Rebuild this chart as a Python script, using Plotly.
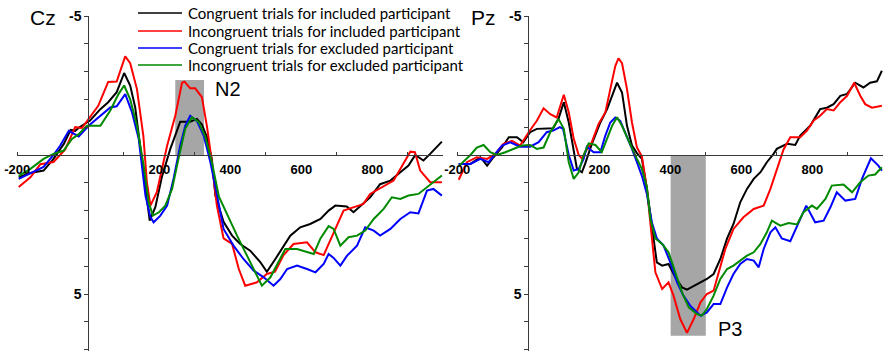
import plotly.graph_objects as go

# ---------------- data (ms, microvolts; negative up) ----------------
CZ_CON_IN_T = [-196,-163,-126,-98,-69,-50,-37,-25,5,34,56,80,101,118,132,151,165,173,189,207,231,250,259,287,306,320,334,348,358,381,405,428,456,485,503,527,550,569,597,625,654,677,696,728,747,766,794,822,851,879,902,921,944,963,982,996]
CZ_CON_IN_V = [0.8,0.65,0.56,0.14,-0.4,-0.9,-0.87,-1.0,-1.24,-1.65,-1.9,-2.26,-2.95,-2.5,-1.72,0.14,1.7,2.36,1.87,0.8,-0.22,-0.94,-1.2,-1.2,-1.3,-1.1,-0.65,0.15,1.46,2.4,2.9,3.2,3.44,3.86,4.2,3.74,3.26,2.9,2.6,2.48,2.3,2.0,1.82,1.85,2.06,1.84,1.52,1.05,0.92,0.62,0.38,0.0,0.2,-0.04,-0.28,-0.48]

CZ_INC_IN_T = [-196,-163,-135,-98,-65,-37,-18,5,28,56,80,104,118,137,155,165,175,193,222,245,264,271,287,301,320,334,346,362,381,405,424,442,475,503,526,550,578,616,640,663,691,719,757,775,794,822,860,879,907,920,935,963,996]
CZ_INC_IN_V = [1.15,0.8,0.33,0.25,-0.2,-1.0,-0.97,-1.35,-1.77,-2.63,-2.64,-3.55,-3.3,-2.37,-0.7,0.98,1.82,1.34,-0.33,-1.41,-2.6,-2.64,-2.4,-2.4,-2.08,-1.05,0.05,1.8,3.0,3.2,4.1,4.7,4.58,4.28,4.2,3.6,3.2,3.14,3.5,3.6,2.78,2.0,1.84,1.76,1.4,1.2,0.92,0.5,-0.12,-0.1,0.56,0.98,0.98]

CZ_CON_EX_T = [-196,-163,-126,-98,-79,-55,-27,5,34,62,80,104,123,142,161,175,184,203,222,240,259,273,287,306,325,344,362,381,409,437,466,494,522,541,560,588,616,640,663,677,691,710,729,757,780,804,822,851,879,907,930,954,972,996]
CZ_CON_EX_V = [0.86,0.67,0.43,0.0,-0.34,-0.87,-0.67,-1.1,-1.41,-1.71,-1.75,-2.19,-1.54,-0.58,1.46,2.23,2.42,2.18,1.82,0.86,-0.34,-1.05,-1.41,-1.22,-0.7,0.26,1.4,2.66,3.26,3.74,4.16,4.4,4.7,4.46,4.1,3.98,4.1,4.22,3.92,3.56,3.7,3.98,3.62,3.26,2.6,2.72,2.9,2.66,2.3,2.06,2.1,1.28,1.22,1.46]

CZ_INC_EX_T = [-196,-163,-126,-98,-70,-46,-27,-4,34,62,85,101,118,137,156,170,182,199,217,236,254,273,292,311,330,348,368,393,419,447,470,489,513,536,555,588,616,635,654,677,691,710,733,757,780,804,832,855,879,902,930,954,977,996]
CZ_INC_EX_V = [0.75,0.5,0.14,-0.04,-0.15,-0.58,-0.75,-1.05,-1.05,-1.6,-2.19,-2.5,-2.0,-1.05,0.38,1.7,2.18,2.06,1.82,1.22,0.14,-0.94,-1.36,-1.18,-0.64,0.26,1.5,2.2,2.9,3.62,4.22,4.7,4.4,3.86,3.38,3.38,3.5,3.56,3.0,2.56,2.66,3.26,2.96,2.9,2.72,2.3,1.94,1.52,1.58,1.46,1.4,1.16,0.92,0.74]

PZ_CON_IN_T = [-196,-163,-135,-116,-98,-74,-55,-32,-14,5,24,52,70,85,100,114,128,137,151,160,179,203,222,240,250,264,278,292,306,320,334,348,362,377,395,414,433,447,466,485,503,522,541,560,578,597,616,635,654,672,691,700,729,752,766,794,822,841,860,879,898,921,944,963,982,996]
PZ_CON_IN_V = [0.32,0.32,0.08,0.38,0.08,-0.27,-0.64,-0.64,-0.46,-0.82,-0.94,-0.96,-0.96,-1.3,-1.9,-1.17,-0.22,0.5,0.62,0.32,-0.4,-1.17,-1.65,-2.25,-2.6,-2.25,-1.05,-0.34,-0.07,0.14,1.22,2.54,3.86,3.98,3.92,4.4,4.76,4.84,4.7,4.58,4.46,4.28,3.74,3.0,2.48,1.7,1.22,0.86,0.62,0.26,-0.04,-0.22,-0.4,-0.36,-0.7,-1.05,-1.65,-1.7,-1.83,-2.13,-2.2,-2.6,-2.43,-2.6,-2.65,-3.03]

PZ_INC_IN_T = [-196,-173,-145,-116,-93,-70,-46,-23,1,24,43,62,80,100,114,128,142,152,160,179,198,217,231,245,254,264,278,292,306,320,334,348,358,377,395,409,428,447,466,485,503,522,536,555,578,606,635,663,682,700,719,738,766,785,804,822,841,860,879,898,918,935,949,968,996]
PZ_INC_IN_V = [0.89,0.26,0.08,0.14,-0.04,-0.4,-0.51,-0.34,-0.82,-1.23,-1.68,-1.47,-1.35,-2.17,-1.53,-0.58,0.0,0.14,-0.1,-0.46,-1.12,-1.53,-2.37,-3.2,-3.48,-3.3,-2.37,-1.17,-0.27,0.05,1.2,3.0,4.22,4.82,4.58,5.06,5.9,6.4,5.9,5.3,5.0,4.88,4.22,3.38,2.66,2.24,1.94,1.82,1.22,0.55,-0.2,-0.64,-0.64,-0.88,-1.24,-1.41,-1.65,-1.6,-1.9,-2.13,-2.6,-2.13,-1.83,-1.7,-1.77]

PZ_CON_EX_T = [-196,-163,-135,-112,-93,-74,-51,-23,5,29,52,70,89,98,114,128,142,156,165,184,203,217,231,245,259,273,292,306,320,334,348,362,381,400,419,437,456,485,503,522,541,560,578,597,616,635,649,663,682,696,714,738,761,783,808,832,851,869,893,921,940,965,986,996]
PZ_CON_EX_V = [0.32,0.32,0.14,0.26,-0.04,-0.34,-0.46,-0.3,-0.3,-0.46,-0.82,-0.88,-1.0,-0.94,0.0,0.56,0.5,0.14,-0.3,-0.1,-0.1,-0.7,-1.17,-1.35,-1.23,-0.82,-0.22,0.26,0.75,1.4,2.42,3.0,3.26,3.86,4.58,5.06,5.42,5.78,5.66,5.36,5.36,4.76,4.28,3.92,3.74,3.8,4.04,3.38,2.78,2.6,3.0,3.1,2.45,1.82,2.42,2.36,1.88,1.34,1.64,1.58,0.86,0.12,0.38,0.56]

PZ_INC_EX_T = [-196,-163,-145,-126,-107,-88,-65,-42,-18,5,24,43,62,85,100,114,128,142,156,170,189,207,222,236,250,264,278,292,306,320,334,344,358,377,395,414,433,452,475,489,503,522,541,560,578,597,616,635,654,672,686,710,733,757,775,799,813,837,855,888,912,935,958,977,996]
PZ_INC_EX_V = [0.4,0.0,-0.27,-0.36,-0.1,0.0,-0.1,-0.22,-0.34,-0.36,-0.22,-0.27,-0.82,-1.3,-0.94,0.26,0.86,0.62,0.0,-0.42,-0.36,-0.1,-0.58,-1.05,-1.36,-1.05,-0.64,-0.22,0.14,0.5,1.15,2.3,3.0,3.2,3.5,4.22,4.94,5.48,5.72,5.78,5.54,5.06,4.46,4.1,3.98,3.8,3.62,3.5,3.2,2.78,2.36,2.54,2.45,2.5,2.06,1.82,1.94,1.58,1.1,1.06,1.34,0.98,0.74,0.7,0.44]

SERIES_NAMES = ["Congruent trials for included participant",
                "Incongruent trials for included participant",
                "Congruent trials for excluded participant",
                "Incongruent trials for excluded participant"]
SERIES_COLORS = ["#000000", "#ff0000", "#0000ff", "#008a00"]
PANEL_TITLES = ["Cz", "Pz"]
X_TICKS = [-200, 200, 400, 600, 800]
X_MINOR = [-200, 100, 300, 500, 700, 900]
Y_TICKS = [-5, 5]
Y_MINOR = list(range(-5, 8))
WINDOWS = [("N2", 245, 326, -2.7), ("P3", 401, 500, 6.5)]

# ---------------- layout geometry ----------------
W, H = 887, 351
MT, MB = 16, 0
PH = H - MT - MB
X_RANGE = [-200, 1000]
Y_RANGE = [7.05, -5]
DOMAINS = [[17.3 / W, 443.3 / W], [457.3 / W, 883.3 / W]]

def xfrac(dom, t):
    return dom[0] + (t - X_RANGE[0]) / (X_RANGE[1] - X_RANGE[0]) * (dom[1] - dom[0])

y0_pos = (Y_RANGE[0] - 0) / (Y_RANGE[0] - Y_RANGE[1])

def py(pix):  # pixel from top -> paper y
    return (H - MB - pix) / PH

fig = go.Figure()
panels = [
    [(CZ_CON_IN_T, CZ_CON_IN_V), (CZ_INC_IN_T, CZ_INC_IN_V), (CZ_CON_EX_T, CZ_CON_EX_V), (CZ_INC_EX_T, CZ_INC_EX_V)],
    [(PZ_CON_IN_T, PZ_CON_IN_V), (PZ_INC_IN_T, PZ_INC_IN_V), (PZ_CON_EX_T, PZ_CON_EX_V), (PZ_INC_EX_T, PZ_INC_EX_V)],
]
for p, series in enumerate(panels):
    xa = "x" if p == 0 else "x2"
    ya = "y" if p == 0 else "y2"
    for i, (t, v) in enumerate(series):
        fig.add_trace(go.Scatter(x=t, y=v, mode="lines", xaxis=xa, yaxis=ya,
                                 line=dict(color=SERIES_COLORS[i], width=2),
                                 name=SERIES_NAMES[i], showlegend=False))

tickfont = dict(family="Liberation Sans", size=13, color="#000000", weight="bold")
axcol = "#3a3a3a"
for p in range(2):
    dom = DOMAINS[p]
    sfx = "" if p == 0 else "2"
    xa = "x" if p == 0 else "x2"
    ya = "y" if p == 0 else "y2"
    fig.layout["xaxis" + sfx] = dict(
        domain=dom, range=X_RANGE, anchor="free", position=y0_pos, automargin=False,
        showline=True, linecolor=axcol, linewidth=1, showgrid=False, zeroline=False,
        tickmode="array", tickvals=X_TICKS, ticktext=[str(v) for v in X_TICKS],
        ticks="", tickfont=tickfont, ticklabelstandoff=2,
        minor=dict(tickmode="array", tickvals=X_MINOR, ticks="inside", ticklen=3,
                   tickcolor=axcol, tickwidth=1, showgrid=False),
    )
    fig.layout["yaxis" + sfx] = dict(
        domain=[0, 1], range=Y_RANGE, anchor="free", position=xfrac(dom, 0), automargin=False,
        showline=True, linecolor=axcol, linewidth=1, showgrid=False, zeroline=False,
        tickmode="array", tickvals=Y_TICKS, ticktext=[str(v) for v in Y_TICKS],
        ticks="outside", ticklen=4, tickcolor=axcol, tickfont=dict(tickfont, size=14),
        minor=dict(tickmode="array", tickvals=Y_MINOR, ticks="outside", ticklen=4,
                   tickcolor=axcol, tickwidth=1, showgrid=False),
    )
    # panel title
    fig.add_annotation(text=PANEL_TITLES[p], xref="paper", yref="paper",
                       x=xfrac(dom, 0) - 30 / W, y=py(17), xanchor="right", yanchor="middle",
                       showarrow=False, font=dict(family="Liberation Sans", size=21, color="#000000"))
    # component window
    name, t0, t1, vy = WINDOWS[p]
    fig.add_shape(type="rect", xref=xa, yref=ya, x0=t0, x1=t1, y0=0, y1=vy,
                  fillcolor="#a6a6a6", line=dict(width=0), layer="below")

fig.add_annotation(text="N2", xref="x", yref="y", x=350, y=-2.37, xanchor="left", yanchor="middle",
                   showarrow=False, font=dict(family="Liberation Sans", size=20, color="#000000"))
fig.add_annotation(text="P3", xref="x2", yref="y2", x=530, y=6.25, xanchor="left", yanchor="middle",
                   showarrow=False, font=dict(family="Liberation Sans", size=20, color="#000000"))

# manual legend
LEG_X0, LEG_X1, LEG_TX = 138, 182, 187
LEG_ROWS = [13, 31, 48, 65]
for i in range(4):
    fig.add_shape(type="line", xref="paper", yref="paper",
                  x0=LEG_X0 / W, x1=LEG_X1 / W, y0=py(LEG_ROWS[i]), y1=py(LEG_ROWS[i]),
                  line=dict(color=SERIES_COLORS[i], width=1.5))
    fig.add_annotation(text=SERIES_NAMES[i], xref="paper", yref="paper",
                       x=LEG_TX / W, y=py(LEG_ROWS[i]), xanchor="left", yanchor="middle",
                       showarrow=False, borderpad=0,
                       font=dict(family="Lato", size=15, color="#000000"))

fig.update_layout(width=W, height=H, margin=dict(l=0, r=0, t=MT, b=MB, autoexpand=False),
                  paper_bgcolor="white", plot_bgcolor="white", showlegend=False)
fig.write_html("out.html")
